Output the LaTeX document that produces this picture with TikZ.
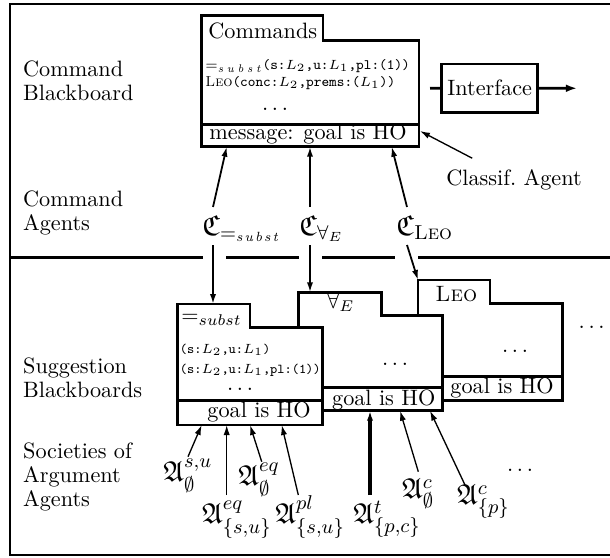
\documentclass[tikz,border=0pt]{standalone}
\usepackage{amsmath,amssymb}
\usetikzlibrary{arrows.meta,calc}
\tikzset{
  box/.style={draw, line width=1.2pt, fill=white, line join=miter},
  frame/.style={line width=0.9pt},
  sep/.style={line width=1.2pt},
  arr/.style={-{Latex[length=4.5pt,width=2.8pt]}, line width=0.6pt},
  carr/.style={-{Latex[length=4.5pt,width=2.8pt]}, line width=0.8pt},
  side/.style={align=left, anchor=west, inner sep=0pt, font=\fontsize{10}{10.6}\selectfont},
  txt/.style={inner sep=0pt, anchor=base west},
  dotsn/.style={inner sep=0pt, anchor=base},
  sm/.style={inner sep=0pt, anchor=west, font=\fontsize{6.5}{7}\selectfont\ttfamily},
  smb/.style={inner sep=0pt, anchor=west, font=\fontsize{6.1}{7}\selectfont\ttfamily},
  lab/.style={inner sep=0pt, anchor=base west, font=\fontsize{13}{15}\selectfont},
}
\newcommand\subs{\mathit{s\,u\,b\,s\,t}}
\newcommand\subn{\mathit{s\mkern1mu u\mkern1mu b\mkern1mu s\mkern1mu t}}
\begin{document}
\begin{tikzpicture}[x=0.45pt,y=-0.45pt]
\useasboundingbox (0,0) rectangle (610,557);
\draw[frame] (610,4.5) -- (10,4.5) -- (10,554.5) -- (610,554.5);

% separator
\draw[sep] (10,257.5) -- (203,257.5);
\draw[sep] (226,257.5) -- (299,257.5);
\draw[sep] (322,257.5) -- (395,257.5);
\draw[sep] (418,257.5) -- (610,257.5);

% side labels
\node[side] (l1) at (22.7,80.7) {Command\\Blackboard};
\node[side] (l2) at (22.7,212.8) {Command\\Agents};
\node[side] (l3) at (22.7,378) {Suggestion\\Blackboards};
\node[side] (l4) at (22.7,477) {Societies of\\Argument\\Agents};

% command blackboard
\draw[box] (201.7,146.7) -- (201.7,15.7) -- (323,15.7) -- (323,40.7) -- (419,40.7) -- (419,146.7) -- cycle;
\draw[box] (201.7,124.3) -- (419,124.3);
\node[txt] (cmd) at (208,39) {Commands};
\node[sm] (c1) at (205,66) {$=_{\subs}$(s:$L_2$,u:$L_1$,pl:(1))};
\node[sm] (c2) at (205,83) {{\rmfamily\textsc{Leo}}(conc:$L_2$,prems:($L_1$))};
\node[dotsn] (cdots) at (275,111) {$\ldots$};
\node[inner sep=0pt, anchor=base] (msg) at (308,140) {message: goal is HO};

% interface
\node[draw, line width=1.2pt, minimum width=43.2pt, minimum height=21.7pt, inner sep=0pt] (iface) at (489.7,88.2) {Interface};
\coordinate (ifin) at (430,88.3);
\coordinate (ifout) at (577,88.3);
\draw[line width=1.2pt] (ifin) -- (iface.west);
\draw[line width=1.2pt, -{Latex[length=5pt,width=3.5pt]}] (iface.east) -- (ifout);

% classif agent
\node[inner sep=5pt] (cls) at (514,180) {Classif.~Agent};
\coordinate (cbR) at (420,131);
\draw[arr] (cls) -- (cbR);

% suggestion blackboards
\draw[box] (418,400.7) -- (418,280) -- (490,280) -- (490,303.3) -- (562.7,303.3) -- (562.7,400.7) -- cycle;
\draw[box] (418,376.7) -- (562.7,376.7);
\draw[box] (298.3,410.7) -- (298.3,292.3) -- (381.7,292.3) -- (381.7,315.7) -- (442.3,315.7) -- (442.3,410.7) -- cycle;
\draw[box] (298.3,387.3) -- (442.3,387.3);
\draw[box] (177.3,425) -- (177.3,304) -- (250,304) -- (250,327.3) -- (322.7,327.3) -- (322.7,425) -- cycle;
\draw[box] (177.3,400.7) -- (322.7,400.7);

\node[txt] (s1h) at (181,322) {$=_{subst}$};
\node[smb] (s1a) at (179.5,350) {(s:$L_2$,u:$L_1$)};
\node[smb] (s1b) at (179.5,370) {(s:$L_2$,u:$L_1$,pl:(1))};
\node[dotsn] (s1d) at (240,390) {$\ldots$};
\node[txt] (s1g) at (207,417) {goal is HO};

\node[txt] (s2h) at (326.7,308.3) {$\forall_E$};
\node[dotsn] (s2d) at (395,365) {$\ldots$};
\node[txt] (s2g) at (331.7,405) {goal is HO};

\node[txt] (s3h) at (435,301.7) {\textsc{Leo}};
\node[dotsn] (s3d) at (515,352.7) {$\ldots$};
\node[txt] (s3g) at (450,393.3) {goal is HO};

\node[dotsn] (rd1) at (591.7,328.3) {$\ldots$};
\node[dotsn] (rd2) at (520,471.7) {$\ldots$};

% command agents
\node[lab] (ca1) at (202,235) {$\mathfrak{C}_{=_{\subn}}$};
\node[lab] (ca2) at (299,235) {$\mathfrak{C}_{\forall_E}$};
\node[lab] (ca3) at (396,235) {$\mathfrak{C}_{\text{\textsc{Leo}}}$};

\coordinate (ca1t) at (213,207);
\coordinate (ca1b) at (213,245);
\coordinate (ca2t) at (310,207);
\coordinate (ca2b) at (310,245);
\coordinate (ca3t) at (407,207);
\coordinate (ca3b) at (407,245);
\coordinate (cb1) at (226.7,146.7);
\coordinate (cb2) at (310,146.7);
\coordinate (cb3) at (391.7,146.7);
\coordinate (sb1) at (213,304);
\coordinate (sb2) at (310,292.3);
\coordinate (sb3) at (418,280);
\draw[carr] (ca1t) -- (cb1);
\draw[carr] (ca2t) -- (cb2);
\draw[carr] (ca3t) -- (cb3);
\draw[carr] (ca1b) -- (sb1);
\draw[carr] (ca2b) -- (sb2);
\draw[carr] (ca3b) -- (sb3);

% argument agents
\node[lab] (a1) at (163,481) {$\mathfrak{A}^{s,u}_{\emptyset}$};
\node[lab] (a2) at (201.7,523) {$\mathfrak{A}^{eq}_{\{s,u\}}$};
\node[lab] (a3) at (238,485) {$\mathfrak{A}^{eq}_{\emptyset}$};
\node[lab] (a4) at (275,523) {$\mathfrak{A}^{pl}_{\{s,u\}}$};
\node[lab] (a5) at (353,523) {$\mathfrak{A}^{t}_{\{p,c\}}$};
\node[lab] (a6) at (401.7,498) {$\mathfrak{A}^{c}_{\emptyset}$};
\node[lab] (a7) at (456.7,504) {$\mathfrak{A}^{c}_{\{p\}}$};

\coordinate (a1t) at (188,456.7);
\coordinate (a2t) at (226.7,495);
\coordinate (a3t) at (261.7,461.7);
\coordinate (a4t) at (298.3,495);
\coordinate (a5t) at (370,495);
\coordinate (a6t) at (418.3,471.7);
\coordinate (a7t) at (465,485);
\coordinate (b1) at (201.7,425);
\coordinate (b2) at (226.7,425);
\coordinate (b3) at (250,425);
\coordinate (b4) at (281.7,425);
\coordinate (b5) at (370,410.7);
\coordinate (b6) at (400,410.7);
\coordinate (b7) at (430,410.7);
\draw[arr] (a1t) -- (b1);
\draw[arr] (a2t) -- (b2);
\draw[arr] (a3t) -- (b3);
\draw[arr] (a4t) -- (b4);
\draw[arr, line width=1.4pt] (a5t) -- (b5);
\draw[arr] (a6t) -- (b6);
\draw[arr] (a7t) -- (b7);
\end{tikzpicture}
\end{document}
